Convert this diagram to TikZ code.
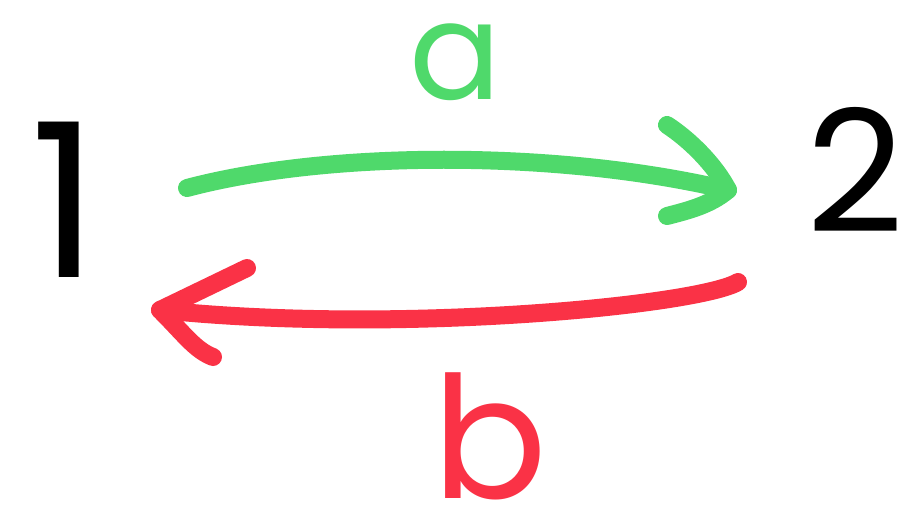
\documentclass[tikz,border=0pt]{standalone}
\usepackage{fontspec}
\newfontfamily\hand{Poppins}
\definecolor{gr}{HTML}{4FD96B}
\definecolor{rd}{HTML}{FA3246}
\begin{document}
\begin{tikzpicture}[x=1pt,y=-1pt,
  stroke/.style={line width=18pt,line cap=round,line join=round},
  lbl/.style={inner sep=0pt}]
\useasboundingbox[fill=white] (0,0) rectangle (912,525);
\node[lbl,font=\hand\fontsize{215}{215}\selectfont] (n1) at (65,200) {1};
\node[lbl,font=\hand\fontsize{170}{170}\selectfont] (n2) at (855,170) {2};
\node[lbl,text=gr,font=\hand\fontsize{136}{136}\selectfont] (la) at (455,62) {a};
\node[lbl,text=rd,font=\hand\fontsize{170}{170}\selectfont] (lb) at (490,436) {b};
\coordinate (g1) at (187,188);
\coordinate (g2) at (728,190);
\coordinate (ga1) at (667,125);
\coordinate (ga2) at (667,216);
\coordinate (r1) at (738,282);
\coordinate (r2) at (160,310);
\coordinate (ra1) at (247,268);
\coordinate (ra2) at (213,357);
\draw[stroke,gr] (g1) .. controls (330,150) and (560,150) .. (g2);
\draw[stroke,gr] (ga1) .. controls (690,140) and (715,165) .. (g2) .. controls (710,205) and (690,210) .. (ga2);
\draw[stroke,rd] (r1) .. controls (700,305) and (400,335) .. (r2);
\draw[stroke,rd] (ra1) -- (r2) .. controls (185,335) and (195,350) .. (ra2);
\end{tikzpicture}
\end{document}
